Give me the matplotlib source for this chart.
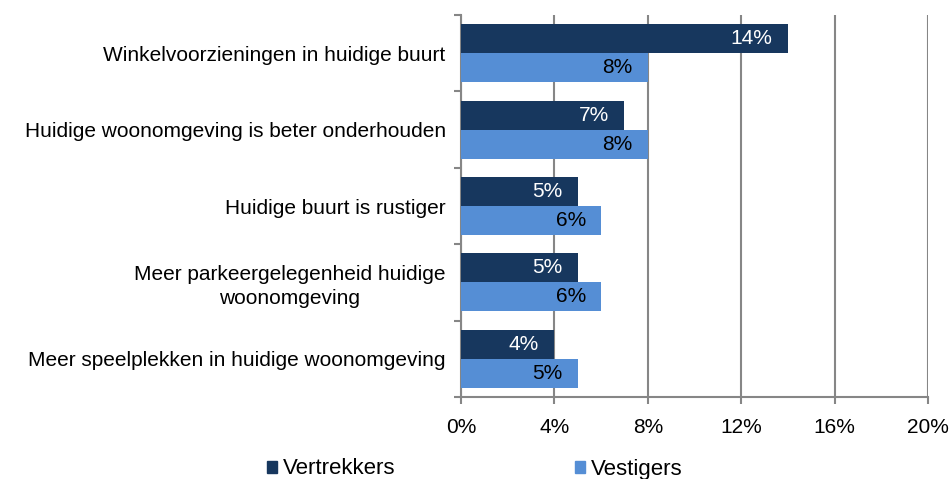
import numpy as np
import matplotlib.pyplot as plt
from matplotlib.ticker import FixedLocator

plt.rcParams['font.family'] = ['Liberation Sans', 'DejaVu Sans']

categories = [
    "Winkelvoorzieningen in huidige buurt",
    "Huidige woonomgeving is beter onderhouden",
    "Huidige buurt is rustiger",
    "Meer parkeergelegenheid huidige\nwoonomgeving",
    "Meer speelplekken in huidige woonomgeving",
]
vertrekkers = [14, 7, 5, 5, 4]
vestigers = [8, 8, 6, 6, 5]
xticks = [0, 4, 8, 12, 16, 20]

dark = '#17375E'
light = '#558ED5'
grid_col = '#868686'

fig = plt.figure(figsize=(9.53, 4.79), dpi=100)
ax = fig.add_axes([461 / 953, 1 - 397 / 479, (928 - 461) / 953, (397 - 15) / 479])

y = np.arange(len(categories))
h = 0.38
b1 = ax.barh(y - h / 2, vertrekkers, height=h, color=dark, zorder=3)
b2 = ax.barh(y + h / 2, vestigers, height=h, color=light, zorder=3)

# waarde-labels binnen het einde van de balk
for bar, v in zip(b1, vertrekkers):
    ax.text(bar.get_width() - 0.65, bar.get_y() + bar.get_height() / 2, f"{v}%",
            ha='right', va='center', color='white', fontsize=15, zorder=4)
for bar, v in zip(b2, vestigers):
    ax.text(bar.get_width() - 0.65, bar.get_y() + bar.get_height() / 2, f"{v}%",
            ha='right', va='center', color='black', fontsize=15, zorder=4)

ax.set_xlim(0, 20)
ax.set_ylim(len(categories) - 0.5, -0.5)
ax.set_xticks(xticks)
ax.set_xticklabels([f"{t}%" for t in xticks], fontsize=15)
ax.tick_params(axis='x', length=5, color=grid_col, width=1.5, pad=10)

ax.set_yticks(y)
ax.set_yticklabels(categories, fontsize=15, multialignment='center', linespacing=1.3)
ax.tick_params(axis='y', which='major', length=0, pad=11)
ax.yaxis.set_minor_locator(FixedLocator(np.arange(-0.5, len(categories), 1)))
ax.tick_params(axis='y', which='minor', length=5, color=grid_col, width=1.5)

ax.grid(axis='x', color=grid_col, linewidth=1.5, zorder=0)
for s in ['top', 'right']:
    ax.spines[s].set_visible(False)
ax.spines['bottom'].set_color(grid_col)
ax.spines['bottom'].set_linewidth(1.5)
ax.spines['left'].set_color(grid_col)
ax.spines['left'].set_linewidth(1.5)

handles = [plt.Rectangle((0, 0), 1, 1, color=dark), plt.Rectangle((0, 0), 1, 1, color=light)]
fig.legend(handles, ['Vertrekkers', 'Vestigers'], loc='center', bbox_to_anchor=(0.498, 1 - 469 / 479),
           ncol=2, frameon=False, fontsize=16, handlelength=0.45, handleheight=0.45,
           handletextpad=0.25, columnspacing=8.1)

fig.savefig('out.png', dpi=100)
